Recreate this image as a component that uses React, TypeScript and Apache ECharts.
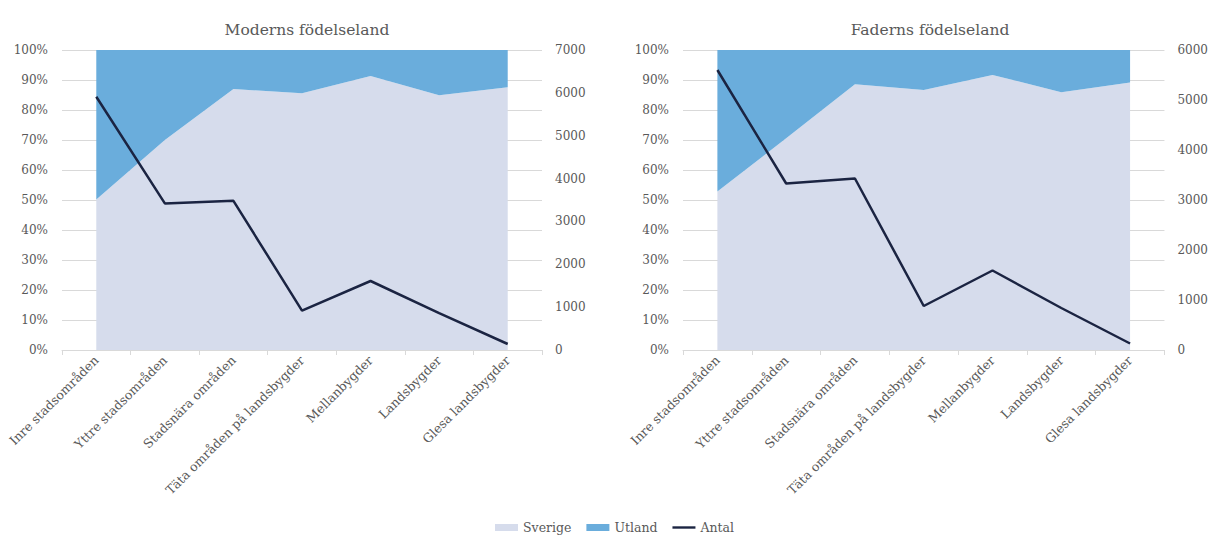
import React, { useEffect, useRef } from "react";
import * as echarts from "echarts";

const categories = [
  "Inre stadsområden",
  "Yttre stadsområden",
  "Stadsnära områden",
  "Täta områden på landsbygder",
  "Mellanbygder",
  "Landsbygder",
  "Glesa landsbygder",
];

const titles = ["Moderns födelseland", "Faderns födelseland"];

// Share (%) born in Sweden
const moderSverige = [50.2, 70, 87, 85.6, 91.3, 84.9, 87.6];
const faderSverige = [52.8, 70.6, 88.6, 86.7, 91.7, 85.9, 89.2];
// Share (%) born abroad
const moderUtland = [49.8, 30, 13, 14.4, 8.7, 15.1, 12.4];
const faderUtland = [47.2, 29.4, 11.4, 13.3, 8.3, 14.1, 10.8];
// Counts
const moderAntal = [5910, 3420, 3480, 920, 1610, 860, 140];
const faderAntal = [5600, 3330, 3430, 880, 1590, 840, 130];

const rightMax = [7000, 6000];

const FONT = "DejaVu Serif";
const TXT = "#595959";
const GRID = "#d9d9d9";
const C_SVERIGE = "#d6dcec";
const C_UTLAND = "#6aaddc";
const C_ANTAL = "#1b2442";

export default function App() {
  const ref = useRef<HTMLDivElement>(null);
  useEffect(() => {
    document.body.style.margin = "0";
    const chart = echarts.init(ref.current!, null, { renderer: "svg" });
    const grids = [
      { left: 62, right: 669, top: 50, height: 300 },
      { left: 683, right: 46, top: 50, height: 300 },
    ];
    const sverige = [moderSverige, faderSverige];
    const utland = [moderUtland, faderUtland];
    const antal = [moderAntal, faderAntal];
    const xAxes: any[] = [];
    const yAxes: any[] = [];
    const series: any[] = [];
    [0, 1].forEach((i) => {
      xAxes.push({
        type: "category",
        gridIndex: i,
        data: categories,
        boundaryGap: true,
        axisLine: { lineStyle: { color: GRID } },
        axisTick: { show: true, length: 5, lineStyle: { color: GRID } },
        axisLabel: {
          interval: 0,
          rotate: 45,
          color: TXT,
          fontFamily: FONT,
          fontSize: 12.5,
          margin: 8,
        },
      });
      yAxes.push({
        type: "value",
        gridIndex: i,
        min: 0,
        max: 100,
        interval: 10,
        position: "left",
        axisLine: { show: false },
        axisTick: { show: false },
        splitLine: { lineStyle: { color: GRID } },
        axisLabel: {
          formatter: "{value}%",
          color: TXT,
          fontFamily: FONT,
          fontSize: 12,
          margin: 14,
        },
      });
      yAxes.push({
        type: "value",
        gridIndex: i,
        min: 0,
        max: rightMax[i],
        interval: 1000,
        position: "right",
        axisLine: { show: false },
        axisTick: { show: false },
        splitLine: { show: false },
        axisLabel: {
          formatter: (v: number) => String(v),
          color: TXT,
          fontFamily: FONT,
          fontSize: 12,
          margin: 13,
        },
      });
      series.push({
        name: "Sverige",
        type: "line",
        xAxisIndex: i,
        yAxisIndex: i * 2,
        stack: "s" + i,
        data: sverige[i],
        symbol: "none",
        lineStyle: { width: 0 },
        itemStyle: { color: C_SVERIGE },
        areaStyle: { color: C_SVERIGE, opacity: 1 },
        z: 1,
      });
      series.push({
        name: "Utland",
        type: "line",
        xAxisIndex: i,
        yAxisIndex: i * 2,
        stack: "s" + i,
        data: utland[i],
        symbol: "none",
        lineStyle: { width: 0 },
        itemStyle: { color: C_UTLAND },
        areaStyle: { color: C_UTLAND, opacity: 1 },
        z: 1,
      });
      series.push({
        name: "Antal",
        type: "line",
        xAxisIndex: i,
        yAxisIndex: i * 2 + 1,
        data: antal[i],
        symbol: "none",
        lineStyle: { width: 2.5, color: C_ANTAL },
        itemStyle: { color: C_ANTAL },
        z: 3,
      });
    });
    chart.setOption({
      animation: false,
      backgroundColor: "#ffffff",
      textStyle: { fontFamily: FONT },
      title: [
        {
          text: titles[0],
          left: 302,
          top: 17,
          textAlign: "center",
          textStyle: { fontFamily: FONT, fontSize: 15.5, fontWeight: "normal", color: TXT },
        },
        {
          text: titles[1],
          left: 925,
          top: 17,
          textAlign: "center",
          textStyle: { fontFamily: FONT, fontSize: 15.5, fontWeight: "normal", color: TXT },
        },
      ],
      legend: {
        top: 516,
        left: 490,
        itemWidth: 23,
        itemHeight: 7,
        itemGap: 15,
        textStyle: { fontFamily: FONT, fontSize: 12.5, color: TXT },
        data: [
          { name: "Sverige", icon: "rect" },
          { name: "Utland", icon: "rect" },
          { name: "Antal", icon: "path://M0,0 L24,0 L24,2.5 L0,2.5 Z" },
        ],
      },
      grid: grids,
      xAxis: xAxes,
      yAxis: yAxes,
      series,
    });
    return () => chart.dispose();
  }, []);
  return <div ref={ref} style={{ width: 1211, height: 539 }} />;
}
